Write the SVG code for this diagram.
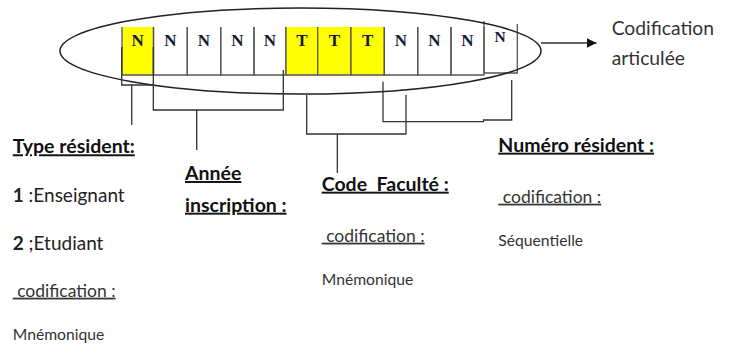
<svg xmlns="http://www.w3.org/2000/svg" width="732" height="345" viewBox="0 0 732 345">
<style>
.cell{fill:none;stroke:#555;stroke-width:1.3}
.yel{fill:#ffff00;stroke:none}
.let{font-family:"Liberation Serif",serif;font-weight:bold;font-size:17px;text-anchor:middle;fill:#141a33}
.con{fill:none;stroke:#333;stroke-width:1.3}
.h{font-family:Lato,"Open Sans",sans-serif;font-weight:bold;font-size:19.5px;fill:#111;text-decoration:underline}
.t{font-family:Lato,"Open Sans",sans-serif;font-size:19px;fill:#222}
.c{font-family:Lato,"Open Sans",sans-serif;font-size:17.5px;fill:#333;text-decoration:underline}
.m{font-family:Lato,"Open Sans",sans-serif;font-size:15.7px;fill:#333}
.big{font-family:Lato,"Open Sans",sans-serif;font-size:19.3px;fill:#333}
</style>
<defs>
<marker id="ah" viewBox="0 0 10 10" refX="10" refY="5" markerWidth="10" markerHeight="10" markerUnits="userSpaceOnUse" orient="auto">
<path d="M0,0 L10,5 L0,10 z" fill="#111"/>
</marker>
</defs>
<g id="cells">
<g id="cell1"><rect class="yel" x="122" y="27" width="31.5" height="48"/><path class="cell" d="M122,27V75H153.5V27"/><text class="let" x="137.7" y="45.5">N</text></g>
<g id="cell2"><path class="cell" d="M153.5,27V75H187.3V27"/><text class="let" x="170.4" y="45.5">N</text></g>
<g id="cell3"><path class="cell" d="M187.3,27V75H220.7V27"/><text class="let" x="204" y="45.5">N</text></g>
<g id="cell4"><path class="cell" d="M220.7,27V75H254V27"/><text class="let" x="237.3" y="45.5">N</text></g>
<g id="cell5"><path class="cell" d="M254,27V75H286V27"/><text class="let" x="270" y="45.5">N</text></g>
<g id="cell6"><rect class="yel" x="286" y="27" width="31.7" height="48"/><path class="cell" d="M286,27V75H317.7V27"/><text class="let" x="301.8" y="45.5">T</text></g>
<g id="cell7"><rect class="yel" x="317.7" y="27" width="33.3" height="48"/><path class="cell" d="M317.7,27V75H351V27"/><text class="let" x="334.3" y="45.5">T</text></g>
<g id="cell8"><rect class="yel" x="351" y="27" width="33.3" height="48"/><path class="cell" d="M351,27V75H384.3V27"/><text class="let" x="367.6" y="45.5">T</text></g>
<g id="cell9"><path class="cell" d="M384.3,27V75H417.7V27"/><text class="let" x="401" y="45.5">N</text></g>
<g id="cell10"><path class="cell" d="M417.7,27V75H451V27"/><text class="let" x="434.3" y="45.5">N</text></g>
<g id="cell11"><path class="cell" d="M451,27V75H484V27"/><text class="let" x="467.5" y="45.5">N</text></g>
<g id="cell12"><path class="cell" d="M484,21V73H517.3V24"/><text class="let" x="500" y="41.5" style="font-size:15.5px">N</text></g>
</g>
<g id="ellipse"><ellipse cx="300.5" cy="51" rx="240.5" ry="43" fill="none" stroke="#222" stroke-width="1.5"/></g>
<g id="connectors">
<path class="con" d="M541,43H596.5" marker-end="url(#ah)"/>
<path class="con" d="M121.7,47V85H153.3"/>
<path class="con" d="M131.7,85V125"/>
<path class="con" d="M153.3,47V110H283.3V70"/>
<path class="con" d="M196.7,110V150"/>
<path class="con" d="M306.7,95V134H406V95"/>
<path class="con" d="M337.3,134V173"/>
<path class="con" d="M383,81.7V121.7H483.5V120H511.7V80"/>
</g>
<g id="label-codification">
<text class="big" x="611.7" y="35">Codification</text>
<text class="big" x="611.7" y="65">articulée</text>
</g>
<g id="label-type">
<text class="h" x="12.7" y="153.3">Type résident:</text>
<text class="t" x="12.7" y="201.7"><tspan font-weight="bold">1</tspan> :Enseignant</text>
<text class="t" x="12.7" y="250"><tspan font-weight="bold">2</tspan> ;Etudiant</text>
<text class="c" x="12.7" y="296.7" xml:space="preserve"> codification :</text>
<text class="m" x="12.7" y="340">Mnémonique</text>
</g>
<g id="label-annee">
<text class="h" x="185" y="180">Année</text>
<text class="h" x="185" y="211.7">inscription :</text>
</g>
<g id="label-code">
<text class="h" x="321.7" y="190.7" xml:space="preserve">Code  Faculté :</text>
<text class="c" x="321.7" y="241.7" xml:space="preserve"> codification :</text>
<text class="m" x="321.7" y="285">Mnémonique</text>
</g>
<g id="label-numero">
<text class="h" x="498.3" y="151.7">Numéro résident :</text>
<text class="c" x="498.3" y="202.7" xml:space="preserve"> codification :</text>
<text class="m" x="498.3" y="246">Séquentielle</text>
</g>
</svg>
